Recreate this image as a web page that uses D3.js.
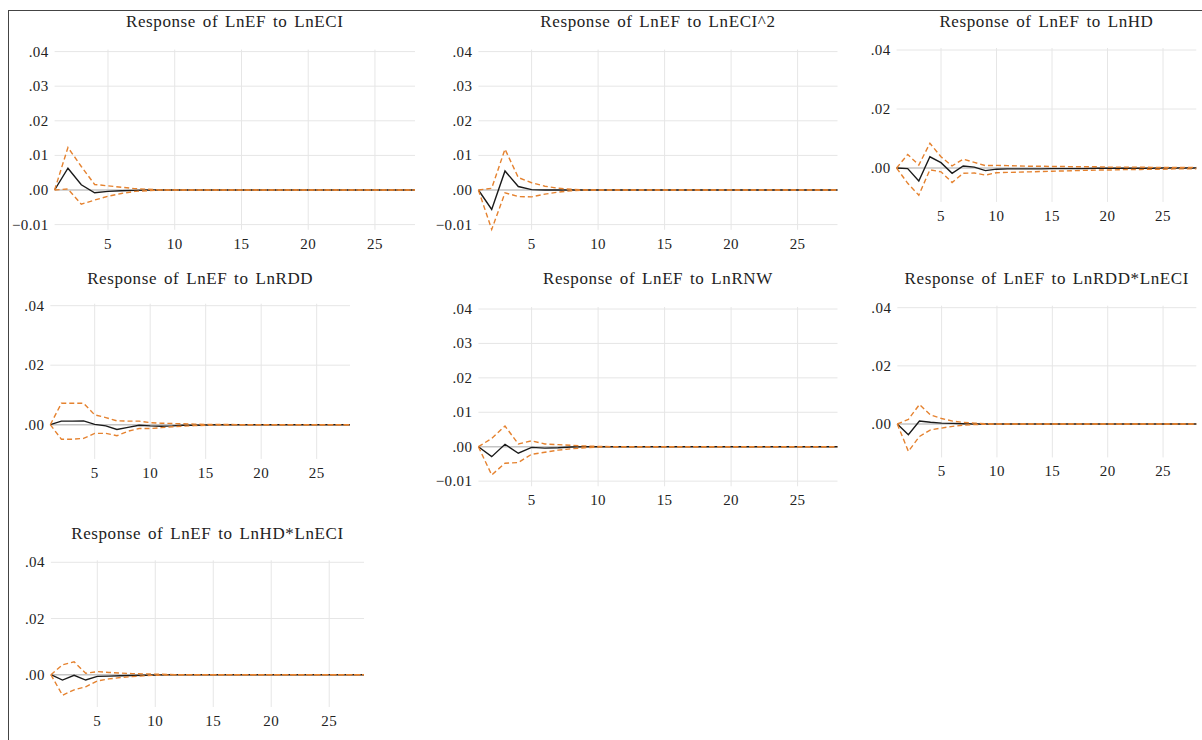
<html lang="en">
<head>
    <meta charset="UTF-8"/>
    <title>Impulse responses</title>
    <style>
        body { margin: 0; background: #fff; }
        svg { display: block; }
        .title { font-size: 17px; letter-spacing: 0.6px; word-spacing: 2px; }
        .tick { font-size: 15px; letter-spacing: 0.4px; }
        path { fill: none; }
    </style>
</head>
<body>
<svg width="1202" height="740"></svg>
<script src="https://d3js.org/d3.v7.min.js"></script>
<script>
    // periods 1..28
    const periods = d3.range(1, 29);

    const titles = [
        "Response of LnEF to LnECI",
        "Response of LnEF to LnECI^2",
        "Response of LnEF to LnHD",
        "Response of LnEF to LnRDD",
        "Response of LnEF to LnRNW",
        "Response of LnEF to LnRDD*LnECI",
        "Response of LnEF to LnHD*LnECI"
    ];

    function pad(arr) {
        // the tail of every response sits on zero
        return arr.concat(new Array(28 - arr.length).fill(0));
    }

    // point responses (black)
    const respECI = pad([0, 0.0063, 0.0015, -0.0008, -0.0004, -0.0002, -0.0001]);
    const respECI2 = pad([0, -0.0056, 0.0055, 0.0010, 0.0001]);
    const respHD = pad([0, -0.0002, -0.0044, 0.0038, 0.0018, -0.0018, 0.0007, 0.0003, -0.0009, -0.0004,
        -0.0003, -0.0003, -0.0003, -0.0003, -0.0002, -0.0002, -0.0002, -0.0002, -0.0001, -0.0001,
        -0.0001, -0.0001, -0.0001, -0.0001]);
    const respRDD = pad([0, 0.0012, 0.0012, 0.0013, 0.0001, -0.0004, -0.0016, -0.0009, -0.0002, -0.0004,
        -0.0005, -0.0004, -0.0002, -0.0002, -0.0001]);
    const respRNW = pad([0, -0.0029, 0.0007, -0.0019, -0.0002, -0.0004, -0.0003, -0.0001]);
    const respRDDECI = pad([0, -0.0037, 0.0010, 0.0006, 0.0003, 0.0002, 0.0001]);
    const respHDECI = pad([0, -0.0019, -0.0002, -0.0019, -0.0006, -0.0005, -0.0004, -0.0003, -0.0002, -0.0001]);

    // upper bands (orange dashed)
    const upECI = pad([0, 0.0123, 0.0068, 0.0016, 0.0012, 0.0008, 0.0004, 0.0002]);
    const upECI2 = pad([0, 0.0005, 0.0118, 0.0036, 0.0021, 0.0011, 0.0005, 0.0002]);
    const upHD = pad([0, 0.0046, 0.0010, 0.0084, 0.0038, 0.0007, 0.0030, 0.0019, 0.0008, 0.0009,
        0.0008, 0.0007, 0.0006, 0.0006, 0.0005, 0.0005, 0.0004, 0.0004, 0.0004, 0.0003,
        0.0003, 0.0003, 0.0003, 0.0002, 0.0002, 0.0002, 0.0002, 0.0002]);
    const upRDD = pad([0, 0.0072, 0.0072, 0.0072, 0.0033, 0.0024, 0.0013, 0.0012, 0.0012, 0.0007,
        0.0005, 0.0004, 0.0003, 0.0002, 0.0001, 0.0001, 0.0001]);
    const upRNW = pad([0, 0.0024, 0.0060, 0.0008, 0.0017, 0.0008, 0.0006, 0.0004, 0.0002, 0.0001]);
    const upRDDECI = pad([0, 0.0016, 0.0067, 0.0031, 0.0019, 0.0010, 0.0005, 0.0003, 0.0001]);
    const upHDECI = pad([0, 0.0035, 0.0046, 0.0005, 0.0011, 0.0008, 0.0006, 0.0004, 0.0003, 0.0002, 0.0001]);

    // lower bands (orange dashed)
    const loECI = pad([0, 0.0003, -0.0041, -0.0029, -0.0018, -0.0010, -0.0004, -0.0002]);
    const loECI2 = pad([0, -0.0114, -0.0008, -0.0019, -0.0020, -0.0012, -0.0006, -0.0002]);
    const loHD = pad([0, -0.0052, -0.0092, -0.0006, -0.0013, -0.0049, -0.0018, -0.0017, -0.0024, -0.0016,
        -0.0015, -0.0014, -0.0013, -0.0012, -0.0011, -0.0010, -0.0009, -0.0008, -0.0007, -0.0007,
        -0.0006, -0.0005, -0.0005, -0.0004, -0.0004, -0.0003, -0.0003, -0.0003]);
    const loRDD = pad([0, -0.0049, -0.0049, -0.0046, -0.0029, -0.0029, -0.0037, -0.0022, -0.0013, -0.0013,
        -0.0010, -0.0007, -0.0005, -0.0003, -0.0002, -0.0001, -0.0001]);
    const loRNW = pad([0, -0.0082, -0.0048, -0.0046, -0.0022, -0.0016, -0.0010, -0.0006, -0.0003, -0.0001]);
    const loRDDECI = pad([0, -0.0094, -0.0043, -0.0020, -0.0014, -0.0008, -0.0004, -0.0002, -0.0001]);
    const loHDECI = pad([0, -0.0073, -0.0054, -0.0043, -0.0022, -0.0015, -0.0010, -0.0007, -0.0004, -0.0002, -0.0001]);

    const responses = [respECI, respECI2, respHD, respRDD, respRNW, respRDDECI, respHDECI];
    const uppers = [upECI, upECI2, upHD, upRDD, upRNW, upRDDECI, upHDECI];
    const lowers = [loECI, loECI2, loHD, loRDD, loRNW, loRDDECI, loHDECI];

    const xTicks = [5, 10, 15, 20, 25];
    const yStep = [0.01, 0.01, 0.02, 0.02, 0.01, 0.02, 0.02];
    const yDomain = [-0.0115, 0.04];

    // panel placement: left/right of plot, y of .04 and y of .00, title baseline
    const layout = [
        {l: 54.6, r: 415, top: 51.6, zero: 190, ty: 27},
        {l: 478.4, r: 837.5, top: 51.6, zero: 190, ty: 27},
        {l: 896.6, r: 1196.3, top: 50, zero: 168, ty: 27},
        {l: 50.3, r: 350, top: 305.7, zero: 424.7, ty: 284},
        {l: 478.4, r: 837.5, top: 309, zero: 446.7, ty: 284},
        {l: 897.3, r: 1196.3, top: 307.7, zero: 424, ty: 284},
        {l: 50.9, r: 364, top: 562.3, zero: 674.7, ty: 539}
    ];

    const orange = "#e5822f";
    const serif = "'Liberation Serif', 'Times New Roman', 'Noto Serif', FreeSerif, 'Nimbus Roman', 'DejaVu Serif', serif";
    const svg = d3.select("svg");

    // outer frame
    svg.append("rect")
        .attr("x", 8.5).attr("y", 10.5)
        .attr("width", 1220).attr("height", 800)
        .attr("fill", "none").attr("stroke", "#444").attr("stroke-width", 1);

    const fmt = d3.format(".2f");
    const yLabel = v => fmt(Math.abs(v) < 1e-9 ? 0 : v).replace(/^(-?)0\./, "$1.");

    layout.forEach((p, i) => {
        const pxPerUnit = (p.zero - p.top) / 0.04;
        const bottom = p.zero - yDomain[0] * pxPerUnit;
        const x = d3.scaleLinear().domain([1, 28]).range([p.l, p.r]);
        const y = d3.scaleLinear().domain(yDomain).range([bottom, p.top]);
        const step = yStep[i];
        const yTicks = d3.range(Math.ceil(yDomain[0] / step - 1e-9), Math.floor(yDomain[1] / step + 1e-9) + 1)
            .map(k => Math.round(k * step * 100) / 100);

        const g = svg.append("g")
            .attr("font-family", serif)
            .attr("fill", "#222");

        // grid
        g.append("g").selectAll("line")
            .data(xTicks).enter().append("line")
            .attr("x1", d => x(d)).attr("x2", d => x(d))
            .attr("y1", p.top - 2).attr("y2", bottom)
            .attr("stroke", "#e6e6e6").attr("stroke-width", 1);
        g.append("g").selectAll("line")
            .data(yTicks.filter(v => v !== 0)).enter().append("line")
            .attr("x1", p.l).attr("x2", p.r)
            .attr("y1", d => y(d)).attr("y2", d => y(d))
            .attr("stroke", "#e6e6e6").attr("stroke-width", 1);
        g.append("line")
            .attr("x1", p.l).attr("x2", p.r)
            .attr("y1", y(0)).attr("y2", y(0))
            .attr("stroke", "#c4c4c4").attr("stroke-width", 1.6);

        // tick labels
        g.append("g").selectAll("text")
            .data(yTicks).enter().append("text")
            .attr("class", "tick")
            .attr("x", p.l - 6).attr("y", d => y(d) + 5)
            .attr("text-anchor", "end")
            .text(yLabel);
        g.append("g").selectAll("text")
            .data(xTicks).enter().append("text")
            .attr("class", "tick")
            .attr("x", d => x(d)).attr("y", bottom + 19)
            .attr("text-anchor", "middle")
            .text(d => d);

        // title
        g.append("text")
            .attr("class", "title")
            .attr("x", (p.l + p.r) / 2).attr("y", p.ty)
            .attr("text-anchor", "middle")
            .text(titles[i]);

        const line = d3.line().x((d, k) => x(periods[k])).y(d => y(d));

        g.append("path")
            .attr("d", line(responses[i]))
            .attr("fill", "none")
            .attr("stroke", "#1a1a1a").attr("stroke-width", 1.4);
        [uppers[i], lowers[i]].forEach(band => {
            g.append("path")
                .attr("d", line(band))
                .attr("fill", "none")
                .attr("stroke", orange).attr("stroke-width", 1.4)
                .attr("stroke-dasharray", "5,3");
        });
    });
</script>
</body>
</html>
